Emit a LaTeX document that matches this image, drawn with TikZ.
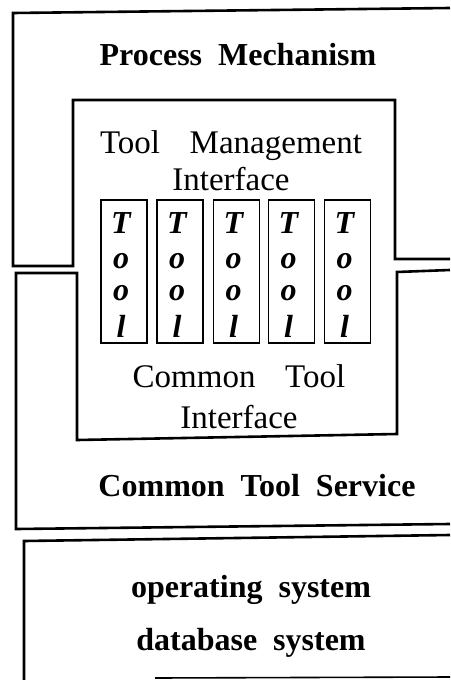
\documentclass[tikz,border=0pt]{standalone}
\usepackage{fontspec}
\setmainfont{Liberation Serif}
\begin{document}
\begin{tikzpicture}[x=1pt,y=-1pt,line join=miter,
  frame/.style={line width=2.6pt},
  toolbox/.style={draw,line width=1.7pt,minimum width=46pt,minimum height=143pt,inner sep=0pt},
  lbl/.style={anchor=base,inner sep=0pt},
  reg/.style={lbl,font=\fontsize{33}{36}\selectfont},
  bld/.style={lbl,font=\fontsize{32}{36}\selectfont\bfseries},
  let/.style={lbl,font=\fontsize{32}{34}\selectfont\bfseries\itshape}]
\useasboundingbox (0,0) rectangle (450,680);
% Process Mechanism
\draw[frame] (450,8) -- (13,13) -- (13,266) -- (73,266) -- (73,100) -- (395,100) -- (395,259) -- (450,259);
% Common Tool Service
\draw[frame] (450,270) -- (397,272) -- (397,434) -- (77,440) -- (77,273) -- (16,273) -- (16,529) -- (450,524);
% operating system box
\draw[frame] (24,680) -- (24,541) -- (450,535);
\draw[line width=1.6pt] (155,678) -- (450,677);
% tools
\foreach \i/\x in {1/124,2/180,3/236.5,4/291.5,5/347.5}{
  \node[toolbox] (t\i) at (\x,271.5) {};
  \node[let] (t\i a) at (\x-3,233) {T};
  \node[let] (t\i b) at (\x-3,268) {o};
  \node[let] (t\i c) at (\x-3,300) {o};
  \node[let] (t\i d) at (\x-3,337) {l};
}
\node[bld] (pm) at (238,65) {Process\hspace{0.5em}Mechanism};
\node[reg] (tm1) at (231,153) {Tool\hspace{0.9em}Management};
\node[reg] (tm2) at (231,190) {Interface};
\node[reg] (ct1) at (239,387) {Common\hspace{0.9em}Tool};
\node[reg] (ct2) at (239,428) {Interface};
\node[bld] (cts) at (257,496) {Common\hspace{0.5em}Tool\hspace{0.5em}Service};
\node[bld] (os) at (251,597) {operating\hspace{0.5em}system};
\node[bld] (db) at (251,650) {database\hspace{0.5em}system};
\end{tikzpicture}
\end{document}
